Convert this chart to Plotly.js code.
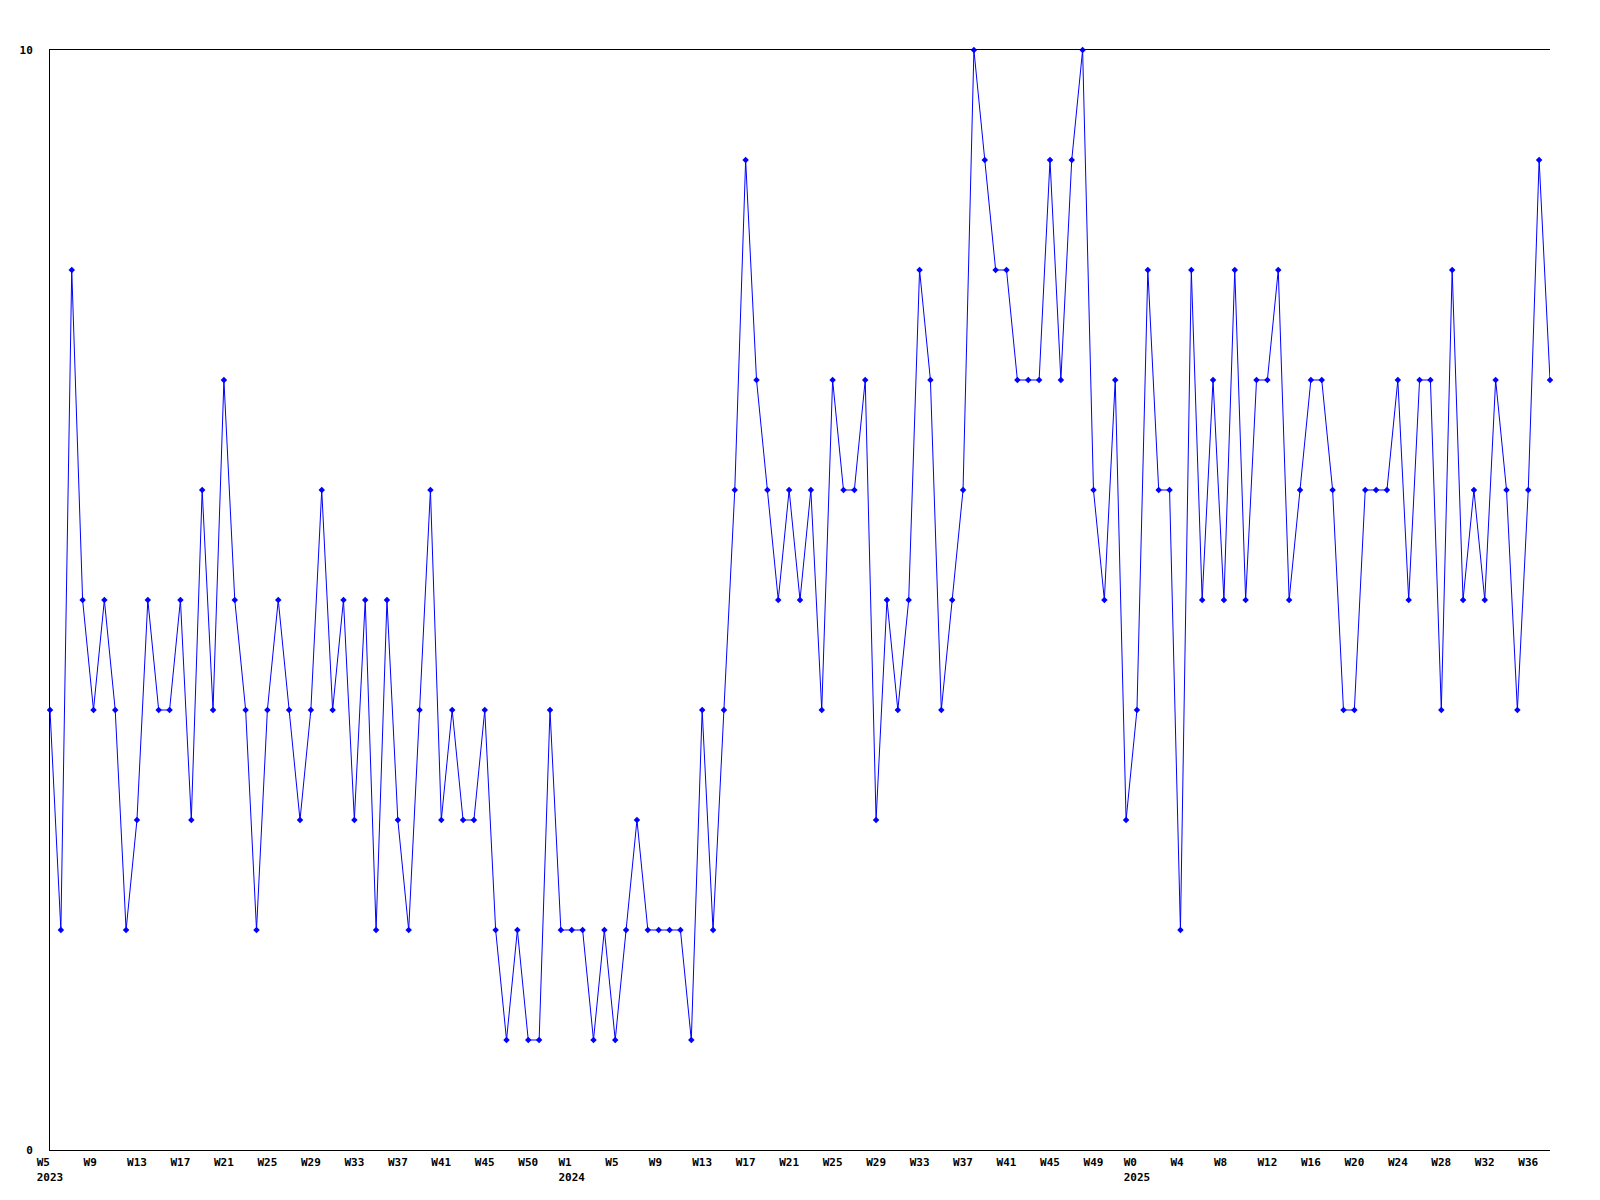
<!DOCTYPE html>
<html>
<head>
<meta charset="utf-8">
<script src="https://cdn.plot.ly/plotly-3.0.1.min.js"></script>
<style>
  html, body { margin: 0; padding: 0; background: #ffffff; }
  #chart { width: 1600px; height: 1200px; }
</style>
</head>
<body>
<div id="chart"></div>
<script>
// Weekly values, one per week, in order (2023 W5 ... 2025 W38)
const values = [
  4, 2, 8, 5, 4, 5, 4, 2, 3, 5,
  4, 4, 5, 3, 6, 4, 7, 5, 4, 2,
  4, 5, 4, 3, 4, 6, 4, 5, 3, 5,
  2, 5, 3, 2, 4, 6, 3, 4, 3, 3,
  4, 2, 1, 2, 1, 1, 4, 2, 2, 2,
  1, 2, 1, 2, 3, 2, 2, 2, 2, 1,
  4, 2, 4, 6, 9, 7, 6, 5, 6, 5,
  6, 4, 7, 6, 6, 7, 3, 5, 4, 5,
  8, 7, 4, 5, 6, 10, 9, 8, 8, 7,
  7, 7, 9, 7, 9, 10, 6, 5, 7, 3,
  4, 8, 6, 6, 2, 8, 5, 7, 5, 8,
  5, 7, 7, 8, 5, 6, 7, 7, 6, 4,
  4, 6, 6, 6, 7, 5, 7, 7, 4, 8,
  5, 6, 5, 7, 6, 4, 6, 9, 7
];

// Tick positions (point index) and their labels
const tickIndex = [0, 4, 8, 12, 16, 20, 24, 28, 32, 36, 40, 44,
                   48, 52, 56, 60, 64, 68, 72, 76, 80, 84, 88, 92, 96,
                   100, 104, 108, 112, 116, 120, 124, 128, 132, 136];
const weekLabels = ["W5", "W9", "W13", "W17", "W21", "W25", "W29", "W33", "W37", "W41", "W45", "W50",
                    "W1", "W5", "W9", "W13", "W17", "W21", "W25", "W29", "W33", "W37", "W41", "W45", "W49",
                    "W0", "W4", "W8", "W12", "W16", "W20", "W24", "W28", "W32", "W36"];
const yearLabels = ["2023", "", "", "", "", "", "", "", "", "", "", "",
                    "2024", "", "", "", "", "", "", "", "", "", "", "", "",
                    "2025", "", "", "", "", "", "", "", "", ""];

const xIndex = values.map((v, i) => i);

// monospace padding so labels read left-aligned like the original
const NB = "\u00a0";
function pad(s, n) { while (s.length < n) s += NB; return s; }
const tickText = weekLabels.map((w, i) => {
  if (yearLabels[i]) {
    const n = Math.max(w.length, yearLabels[i].length);
    return pad(w, n) + "<br>" + pad(yearLabels[i], n);
  }
  return pad(w, 3);
});

const fontFam = "DejaVu Sans Mono, Liberation Mono, monospace";

const trace = {
  x: xIndex,
  y: values,
  type: "scatter",
  mode: "lines+markers",
  line: { color: "#0000ff", width: 1 },
  marker: { symbol: "diamond", size: 5, color: "#0000ff" },
  hoverinfo: "skip",
  cliponaxis: false
};

const layout = {
  width: 1600,
  height: 1200,
  margin: { l: 50, r: 50, t: 50, b: 50, pad: 0 },
  paper_bgcolor: "#ffffff",
  plot_bgcolor: "#ffffff",
  showlegend: false,
  font: { family: fontFam, size: 11, color: "#000000" },
  xaxis: {
    range: [0, values.length - 1],
    tickmode: "array",
    tickvals: tickIndex,
    ticktext: tickText,
    showgrid: false,
    zeroline: false,
    showline: true,
    mirror: true,
    linecolor: "#000000",
    linewidth: 1,
    ticks: "",
    ticklabelstandoff: 2,
    tickfont: { family: fontFam, size: 11, color: "#000000", weight: "bold" },
    fixedrange: true
  },
  yaxis: {
    range: [0, 10],
    tickmode: "array",
    tickvals: [0, 10],
    ticktext: ["0", "10"],
    showgrid: true,
    gridcolor: "#000000",
    gridwidth: 1,
    zeroline: false,
    showline: true,
    linecolor: "#000000",
    linewidth: 1,
    ticks: "",
    ticklabelstandoff: 14,
    tickfont: { family: fontFam, size: 11, color: "#000000", weight: "bold" },
    fixedrange: true
  }
};

Plotly.newPlot("chart", [trace], layout, { staticPlot: true, displayModeBar: false });
</script>
</body>
</html>
